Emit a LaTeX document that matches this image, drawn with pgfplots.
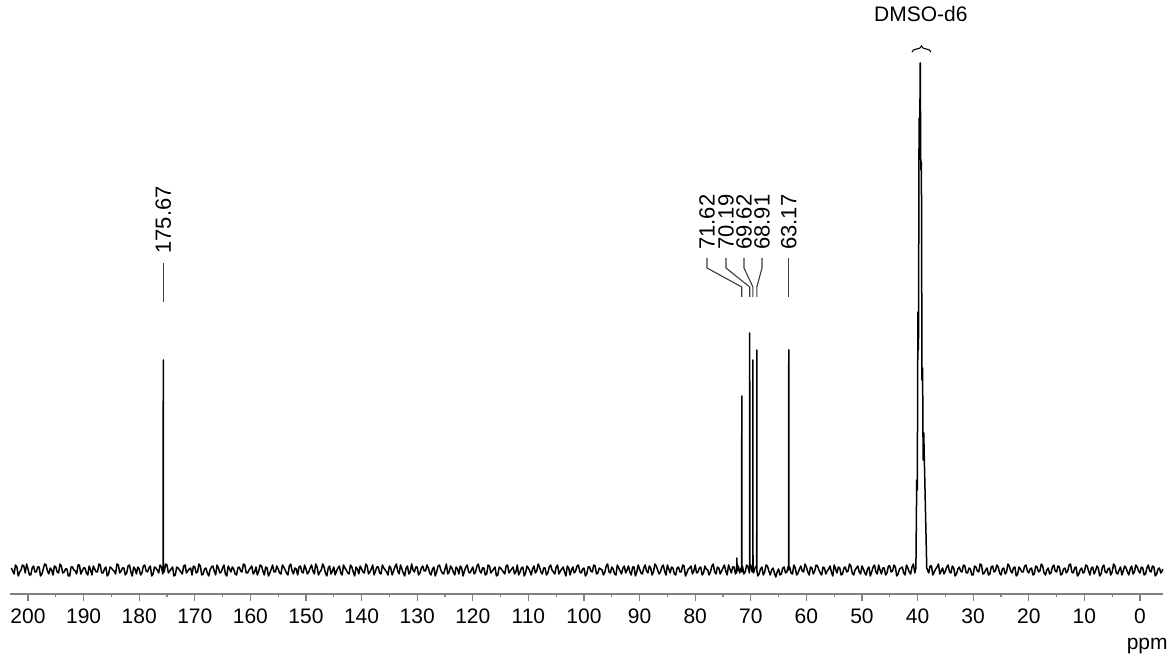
\documentclass[border=0pt]{standalone}
\usepackage{fontspec}
\setmainfont{Liberation Sans}
\usepackage{pgfplots}
\pgfplotsset{compat=1.18}
\usetikzlibrary{decorations.pathreplacing}
\definecolor{axgray}{RGB}{128,128,128}
\definecolor{leadgray}{RGB}{60,60,60}
\begin{document}
\fontsize{10.5}{12}\selectfont
\begin{tikzpicture}
\begin{axis}[
  scale only axis, width=576.5pt, height=297pt,
  x dir=reverse, xmin=-4.14, xmax=203.24, ymin=-24, ymax=570,
  axis x line=bottom, axis y line=none,
  axis line style={-, draw=axgray, line width=0.7pt},
  xtick={0,10,...,200}, minor x tick num=1,
  xtick align=outside, tick align=outside,
  major tick length=3.5pt, minor tick length=1.75pt,
  tick style={draw=axgray, line width=0.6pt},
  xticklabel style={font=\fontsize{10.5}{12}\selectfont, text=black},
  /pgf/number format/assume math mode=true,
  clip=false,
]
\addplot[black, line width=0.75pt, line join=round] coordinates {
(203,2)(202.75,-1)(202.5,-4)(202.25,5)(202,3)(201.75,-6)(201.5,-2)(201.25,0)(201,5)(200.75,4)(200.5,-3)(200.25,6)
(200,1)(199.75,-5)(199.5,-5)(199.25,2)(199,4)(198.75,-2)(198.5,-2)(198.25,3)(198,3)(197.75,-6)(197.5,-4)(197.25,1)(197,6)(196.75,5)(196.5,-1)(196.25,-4)(196,2)(195.75,0)(195.5,-5)(195.25,4)
(195,3)(194.75,-2)(194.5,-3)(194.25,6)(194,4)(193.75,-3)(193.5,-2)(193.25,1)(193,1)(192.75,-6)(192.5,-6)(192.25,3)(192,3)(191.75,0)(191.5,-1)(191.25,-4)(191,5)(190.75,5)(190.5,-4)(190.25,-1)
(190,2)(189.75,2)(189.5,-3)(189.25,-5)(189,4)(188.75,0)(188.5,-5)(188.25,4)(188,1)(187.75,-2)(187.5,-2)(187.25,6)(187,5)(186.75,-3)(186.5,-3)(186.25,1)(186,3)(185.75,-6)(185.5,-4)(185.25,3)
(185,2)(184.75,0)(184.5,-1)(184.25,-4)(184,6)(183.75,5)(183.5,-3)(183.25,-1)(183,2)(182.75,2)(182.5,-5)(182.25,-3)(182,4)(181.75,5)(181.5,-2)(181.25,-6)(181,3)(180.75,1)(180.5,-4)(180.25,3)
(180,1)(179.75,-5)(179.5,-3)(179.25,4)(179,5)(178.75,-1)(178.5,-2)(178.25,2)(178,4)(177.75,-6)(177.5,-4)(177.25,3)(177,2)(176.75,0)(176.5,-3)(176.25,5)(176,3)(175.75,-4)
(175.69,-1)(175.67,210)(175.65,2)
(175.5,-2)(175.25,6)
(175,5)(174.75,-3)(174.5,-1)(174.25,1)(174,3)(173.75,-6)(173.5,-5)(173.25,3)(173,2)(172.75,0)(172.5,-2)(172.25,-4)(172,4)(171.75,5)(171.5,-3)(171.25,-1)(171,1)(170.75,2)(170.5,-5)(170.25,4)
(170,3)(169.75,-3)(169.5,-2)(169.25,6)(169,4)(168.75,-5)(168.5,-4)(168.25,1)(168,2)(167.75,-3)(167.5,-6)(167.25,0)(167,3)(166.75,4)(166.5,-1)(166.25,-5)(166,5)(165.75,2)(165.5,-3)(165.25,-2)
(165,2)(164.75,5)(164.5,-4)(164.25,-6)(164,4)(163.75,1)(163.5,-2)(163.25,3)(163,1)(162.75,-4)(162.5,-5)(162.25,2)(162,3)(161.75,-1)(161.5,-2)(161.25,6)(161,5)(160.75,-3)(160.5,-3)(160.25,0)
(160,2)(159.75,4)(159.5,-4)(159.25,-2)(159,3)(158.75,-5)(158.5,-1)(158.25,5)(158,4)(157.75,-1)(157.5,-5)(157.25,3)(157,2)(156.75,-6)(156.5,-3)(156.25,1)(156,5)(155.75,-2)(155.5,-2)(155.25,4)
(155,1)(154.75,-3)(154.5,-4)(154.25,5)(154,3)(153.75,0)(153.5,-3)(153.25,-5)(153,4)(152.75,6)(152.5,-1)(152.25,-4)(152,2)(151.75,1)(151.5,-5)(151.25,3)(151,4)(150.75,-2)(150.5,-3)(150.25,5)
(150,1)(149.75,-4)(149.5,-2)(149.25,2)(149,5)(148.75,-1)(148.5,-4)(148.25,6)(148,3)(147.75,-5)(147.5,-2)(147.25,0)(147,6)(146.75,3)(146.5,-3)(146.25,-6)(146,2)(145.75,4)(145.5,-4)(145.25,-1)
(145,3)(144.75,-5)(144.5,-1)(144.25,2)(144,4)(143.75,-3)(143.5,-5)(143.25,5)(143,2)(142.75,0)(142.5,-3)(142.25,-4)(142,5)(141.75,3)(141.5,-2)(141.25,-6)(141,3)(140.75,1)(140.5,-4)(140.25,4)
(140,1)(139.75,-2)(139.5,-3)(139.25,6)(139,4)(138.75,-4)(138.5,-2)(138.25,1)(138,5)(137.75,-5)(137.5,-1)(137.25,3)(137,3)(136.75,-3)(136.5,-4)(136.25,5)(136,2)(135.75,0)(135.5,-2)(135.25,-5)
(135,4)(134.75,2)(134.5,-5)(134.25,-1)(134,3)(133.75,6)(133.5,-1)(133.25,-4)(133,5)(132.75,1)(132.5,-3)(132.25,-6)(132,2)(131.75,4)(131.5,-4)(131.25,-2)(131,6)(130.75,0)(130.5,-2)(130.25,3)
(130,3)(129.75,-5)(129.5,-3)(129.25,2)(129,4)(128.75,-1)(128.5,-1)(128.25,5)(128,2)(127.75,-3)(127.5,-5)(127.25,1)(127,3)(126.75,-6)(126.5,-2)(126.25,4)(126,5)(125.75,0)(125.5,-3)(125.25,-4)
(125,1)(124.75,6)(124.5,-4)(124.25,-2)(124,4)(123.75,2)(123.5,-2)(123.25,-5)(123,3)(122.75,1)(122.5,-4)(122.25,4)(122,2)(121.75,-6)(121.5,-1)(121.25,3)(121,5)(120.75,-2)(120.5,-3)(120.25,0)
(120,3)(119.75,-4)(119.5,-2)(119.25,4)(119,6)(118.75,-1)(118.5,-3)(118.25,2)(118,2)(117.75,-5)(117.5,-4)(117.25,5)(117,4)(116.75,-3)(116.5,-1)(116.25,1)(116,3)(115.75,-6)(115.5,-5)(115.25,3)
(115,2)(114.75,0)(114.5,-2)(114.25,-4)(114,4)(113.75,5)(113.5,-3)(113.25,-1)(113,1)(112.75,3)(112.5,-4)(112.25,-2)(112,5)(111.75,-5)(111.5,-2)(111.25,2)(111,3)(110.75,-6)(110.5,-3)(110.25,4)
(110,2)(109.75,-1)(109.5,-5)(109.25,1)(109,4)(108.75,-3)(108.5,-1)(108.25,6)(108,3)(107.75,-2)(107.5,-4)(107.25,2)(107,2)(106.75,-5)(106.5,-3)(106.25,3)(106,5)(105.75,0)(105.5,-2)(105.25,-4)
(105,3)(104.75,5)(104.5,-4)(104.25,-1)(104,1)(103.75,3)(103.5,-2)(103.25,-6)(103,4)(102.75,2)(102.5,-5)(102.25,0)(102,3)(101.75,-3)(101.5,-1)(101.25,4)(101,5)(100.75,-2)(100.5,-3)(100.25,1)
(100,2)(99.75,-6)(99.5,-4)(99.25,3)(99,3)(98.75,-1)(98.5,-2)(98.25,5)(98,4)(97.75,-4)(97.5,-3)(97.25,2)(97,1)(96.75,0)(96.5,-5)(96.25,-2)(96,4)(95.75,6)(95.5,-2)(95.25,-3)
(95,3)(94.75,1)(94.5,-4)(94.25,-5)(94,5)(93.75,2)(93.5,-1)(93.25,-4)(93,2)(92.75,4)(92.5,-3)(92.25,0)(92,4)(91.75,-2)(91.5,-5)(91.25,3)(91,3)(90.75,-6)(90.5,-2)(90.25,5)
(90,1)(89.75,-3)(89.5,-4)(89.25,2)(89,5)(88.75,-1)(88.5,-3)(88.25,4)(88,2)(87.75,-5)(87.5,-2)(87.25,6)(87,4)(86.75,0)(86.5,-4)(86.25,-2)(86,3)(85.75,5)(85.5,-1)(85.25,-5)
(85,5)(84.75,1)(84.5,-3)(84.25,3)(84,2)(83.75,-4)(83.5,-5)(83.25,2)(83,3)(82.75,-2)(82.5,-2)(82.25,5)(82,4)(81.75,-6)(81.5,-3)(81.25,1)(81,2)(80.75,4)(80.5,-4)(80.25,-1)
(80,5)(79.75,-3)(79.5,-2)(79.25,2)(79,3)(78.75,-5)(78.5,-3)(78.25,4)(78,1)(77.75,0)(77.5,-5)(77.25,-2)(77,4)(76.75,6)(76.5,-2)(76.25,-4)(76,3)(75.75,2)(75.5,-4)(75.25,-1)
(75,2)(74.75,5)(74.5,-1)(74.25,-5)(74,5)(73.75,1)(73.5,-3)(73.25,3)(73,3)(72.75,-4)(72.55,-2)(72.5,12)(72.45,-1)(72.25,4)(72,-3)(71.75,2)
(71.64,0)(71.62,174)(71.60,-2)
(71.5,4)(71.25,-4)(71,-2)(70.75,5)(70.5,3)(70.25,-3)
(70.21,1)(70.19,237)(70.17,2)
(70,5)(69.75,-2)
(69.64,3)(69.62,210)(69.60,1)
(69.5,-3)(69.25,2)(69,4)
(68.93,2)(68.91,220)(68.89,-1)
(68.75,-6)(68.5,-4)(68.25,1)(68,3)(67.75,-5)(67.5,-2)(67.25,5)(67,4)(66.75,-1)(66.5,-5)(66.25,0)(66,2)(65.75,-3)(65.5,-7)(65.25,-2)(65,1)(64.75,-5)(64.5,-4)(64.25,2)(64,3)(63.75,-3)(63.5,-2)(63.25,4)
(63.19,1)(63.17,220)(63.15,0)
(63,3)(62.75,-3)(62.5,-4)(62.25,5)(62,2)(61.75,-5)(61.5,-3)(61.25,1)(61,4)(60.75,-1)(60.5,-2)(60.25,6)
(60,3)(59.75,-2)(59.5,-5)(59.25,3)(59,2)(58.75,-4)(58.5,-1)(58.25,5)(58,4)(57.75,0)(57.5,-3)(57.25,-5)(57,3)(56.75,2)(56.5,-4)(56.25,-1)(56,1)(55.75,4)(55.5,-2)(55.25,-6)
(55,5)(54.75,1)(54.5,-3)(54.25,3)(54,2)(53.75,-5)(53.5,-4)(53.25,2)(53,3)(52.75,-2)(52.5,-1)(52.25,6)(52,4)(51.75,-3)(51.5,-5)(51.25,0)(51,2)(50.75,4)(50.5,-2)(50.25,-4)
(50,4)(49.75,1)(49.5,-3)(49.25,-5)(49,1)(48.75,3)(48.5,-6)(48.25,-2)(48,3)(47.75,5)(47.5,-2)(47.25,-4)(47,5)(46.75,0)(46.5,-4)(46.25,2)(46,2)(45.75,-5)(45.5,-3)(45.25,4)
(45,4)(44.75,-2)(44.5,-1)(44.25,5)(44,3)(43.75,-6)(43.5,-4)(43.25,1)(43,2)(42.75,3)(42.5,-3)(42.25,-5)(42,5)(41.75,2)(41.5,-2)(41.25,-4)(41,3)(40.75,6)(40.5,-3)
(40.3,2) (40.15,90) (40.05,80) (39.94,258) (39.84,220) (39.73,452) (39.63,420) (39.52,507)
(39.42,400) (39.31,408) (39.21,190) (39.10,202) (39.00,110) (38.89,137) (38.35,2)
(38,-3)(37.75,4)(37.5,4)(37.25,-5)(37,-2)(36.75,1)(36.5,3)(36.25,6)(36,-4)(35.75,-1)(35.5,2)(35.25,-4)
(35,-1)(34.75,3)(34.5,5)(34.25,-2)(34,-3)(33.75,4)(33.5,2)(33.25,-6)(33,-4)(32.75,1)(32.5,3)(32.25,-1)(32,-2)(31.75,5)(31.5,4)(31.25,-3)(31,-3)(30.75,2)(30.5,1)(30.25,-5)
(30,-5)(29.75,4)(29.5,3)(29.25,-1)(29,-2)(28.75,6)(28.5,5)(28.25,-4)(28,-3)(27.75,0)(27.5,2)(27.25,-5)(27,-4)(26.75,3)(26.5,4)(26.25,-2)(26,-1)(25.75,5)(25.5,3)(25.25,-3)
(25,-5)(24.75,1)(24.5,2)(24.25,-4)(24,-2)(23.75,6)(23.5,4)(23.25,-1)(23,-3)(22.75,2)(22.5,3)(22.25,-6)(22,-4)(21.75,3)(21.5,1)(21.25,-2)(21,-2)(20.75,4)(20.5,5)(20.25,-1)
(20,-3)(19.75,1)(19.5,2)(19.25,-5)(19,-4)(18.75,4)(18.5,3)(18.25,-2)(18,-1)(17.75,6)(17.5,4)(17.25,-3)(17,-5)(16.75,0)(16.5,2)(16.25,-4)(16,-3)(15.75,3)(15.5,5)(15.25,-1)
(15,-2)(14.75,4)(14.5,3)(14.25,-5)(14,-4)(13.75,1)(13.5,2)(13.25,-3)(13,-1)(12.75,5)(12.5,6)(12.25,-2)(12,-3)(11.75,2)(11.5,3)(11.25,-6)(11,-4)(10.75,0)(10.5,2)(10.25,-3)
(10,-2)(9.75,5)(9.5,4)(9.25,-1)(9,-5)(8.75,2)(8.5,3)(8.25,-4)(8,-1)(7.75,4)(7.5,2)(7.25,-6)(7,-4)(6.75,3)(6.5,5)(6.25,-2)(6,-3)(5.75,1)(5.5,2)(5.25,-5)
(5,-2)(4.75,6)(4.5,4)(4.25,-3)(4,-4)(3.75,0)(3.5,3)(3.25,-5)(3,-1)(2.75,4)(2.5,2)(2.25,-2)(2,-5)(1.75,1)(1.5,4)(1.25,-4)(1,-2)(0.75,5)(0.5,3)(0.25,-1)
(0,-3)(-0.25,3)(-0.5,2)(-0.75,-5)(-1,-4)(-1.25,2)(-1.5,5)(-1.75,-1)(-2,-2)(-2.25,4)(-2.5,3)(-2.75,-6)(-3,-4)(-3.25,1)(-3.5,2)(-3.75,-3)(-4,-1)(-4.1,1)
};
% peak labels
\tikzset{lead/.style={draw=leadgray, line width=0.55pt},
         plab/.style={rotate=90, anchor=west, inner sep=0pt, font=\fontsize{11}{12}\selectfont}}
\draw[lead] (axis cs:175.67,307) -- (axis cs:175.67,268);
\node[plab] at (axis cs:175.67,316) {175.67};
\draw[lead] (axis cs:77.88,312) -- (axis cs:77.88,302) -- (axis cs:71.62,283) -- (axis cs:71.62,273);
\draw[lead] (axis cs:74.46,312) -- (axis cs:74.46,302) -- (axis cs:70.19,283) -- (axis cs:70.19,273);
\draw[lead] (axis cs:71.22,312) -- (axis cs:71.22,302) -- (axis cs:69.62,283) -- (axis cs:69.62,273);
\draw[lead] (axis cs:67.99,312) -- (axis cs:67.99,302) -- (axis cs:68.91,283) -- (axis cs:68.91,273);
\draw[lead] (axis cs:63.17,312) -- (axis cs:63.17,273);
\node[plab] at (axis cs:77.88,320) {71.62};
\node[plab] at (axis cs:74.46,320) {70.19};
\node[plab] at (axis cs:71.22,320) {69.62};
\node[plab] at (axis cs:67.99,320) {68.91};
\node[plab] at (axis cs:63.17,320) {63.17};
\node[anchor=base, inner sep=0pt, font=\fontsize{10.5}{12}\selectfont] at (axis cs:39.4,548) {DMSO-d6};
\draw[line width=0.55pt, decorate, decoration={brace, amplitude=3pt}] (axis cs:41.0,518) -- (axis cs:37.6,518);
\end{axis}
\node[anchor=base east, inner sep=0pt, font=\fontsize{10.5}{12}\selectfont] at (579pt,-28pt) {ppm};
\pgfresetboundingbox
\path (-5pt,-31.5pt) rectangle (581.5pt,297pt);
\end{tikzpicture}
\end{document}
